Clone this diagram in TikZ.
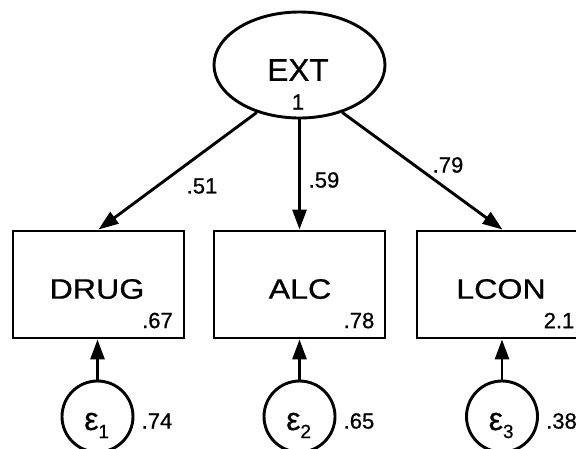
\documentclass[tikz,border=0pt]{standalone}
\usepackage{fontspec}
\setmainfont[FakeBold=0.7]{Liberation Sans}
\newfontfamily\boxfont[FakeStretch=1.15,FakeBold=0.7]{Liberation Sans}
\usetikzlibrary{arrows.meta,shapes.geometric}

\begin{document}
\begin{tikzpicture}[x=1pt,y=-1pt,
  stroke/.style={line width=2.9pt},
  latent/.style={stroke, draw, ellipse, inner sep=0pt, minimum width=171pt, minimum height=106pt},
  observed/.style={stroke, draw, rectangle, inner sep=0pt, minimum width=171pt, minimum height=107pt},
  errnode/.style={stroke, draw, circle, inner sep=0pt, minimum size=71pt},
  loading/.style={stroke, -{Triangle[length=20pt,width=14pt]}},
  numtxt/.style={inner sep=0pt, font=\fontsize{22}{22}\selectfont},
  vartxt/.style={inner sep=0pt, font=\boxfont\fontsize{28}{28}\selectfont},
  errtxt/.style={inner sep=0pt, anchor=base west}
]
\path[use as bounding box, clip] (0,0) rectangle (576,448);

% latent factor
\node[latent] (ext) at (299.5,65) {};
\node[inner sep=0pt, font=\fontsize{31.5}{31.5}\selectfont] (exttxt) at (298,70) {EXT};
\node[numtxt] (extvar) at (298,102) {1};

% observed indicators
\node[observed] (drug) at (98.5,284.5) {};
\node[observed] (alc)  at (299.5,284.5) {};
\node[observed] (lcon) at (502.5,284.5) {};
\node[vartxt] (drugtxt) at (97,289) {DRUG};
\node[vartxt] (alctxt)  at (300,289) {ALC};
\node[vartxt] (lcontxt) at (501,289) {LCON};
\node[numtxt] (drugint) at (157.5,320.5) {.67};
\node[numtxt] (alcint)  at (359,320.5) {.78};
\node[numtxt, anchor=east] (lconint) at (574.5,320.5) {2.1};

% error terms
\node[errnode] (e1) at (97.5,416.5) {};
\node[errnode] (e2) at (299.5,416.5) {};
\node[errnode] (e3) at (502,416.5) {};
\node[errtxt] (e1txt) at (84,430) {\fontsize{32}{32}\selectfont ε\raisebox{-8pt}{\fontsize{19}{19}\selectfont 1}};
\node[errtxt] (e2txt) at (286,430) {\fontsize{32}{32}\selectfont ε\raisebox{-8pt}{\fontsize{19}{19}\selectfont 2}};
\node[errtxt] (e3txt) at (488.5,430) {\fontsize{32}{32}\selectfont ε\raisebox{-8pt}{\fontsize{19}{19}\selectfont 3}};
\node[numtxt] (e1var) at (157,421) {.74};
\node[numtxt] (e2var) at (359,421) {.65};
\node[numtxt] (e3var) at (561.5,421) {.38};

% factor loadings
\draw[loading] (ext.228) -- (drug.north);
\draw[loading] (ext.south) -- (ext.south |- alc.north);
\draw[loading] (ext.-48) -- (lcon.north);
\node[numtxt] (l1) at (202,186) {.51};
\node[numtxt] (l2) at (324,180) {.59};
\node[numtxt] (l3) at (448,165) {.79};

% error paths
\draw[loading] (e1) -- (e1 |- drug.south);
\draw[loading] (e2) -- (e2 |- alc.south);
\draw[loading] (e3) -- (e3 |- lcon.south);
\end{tikzpicture}
\end{document}
